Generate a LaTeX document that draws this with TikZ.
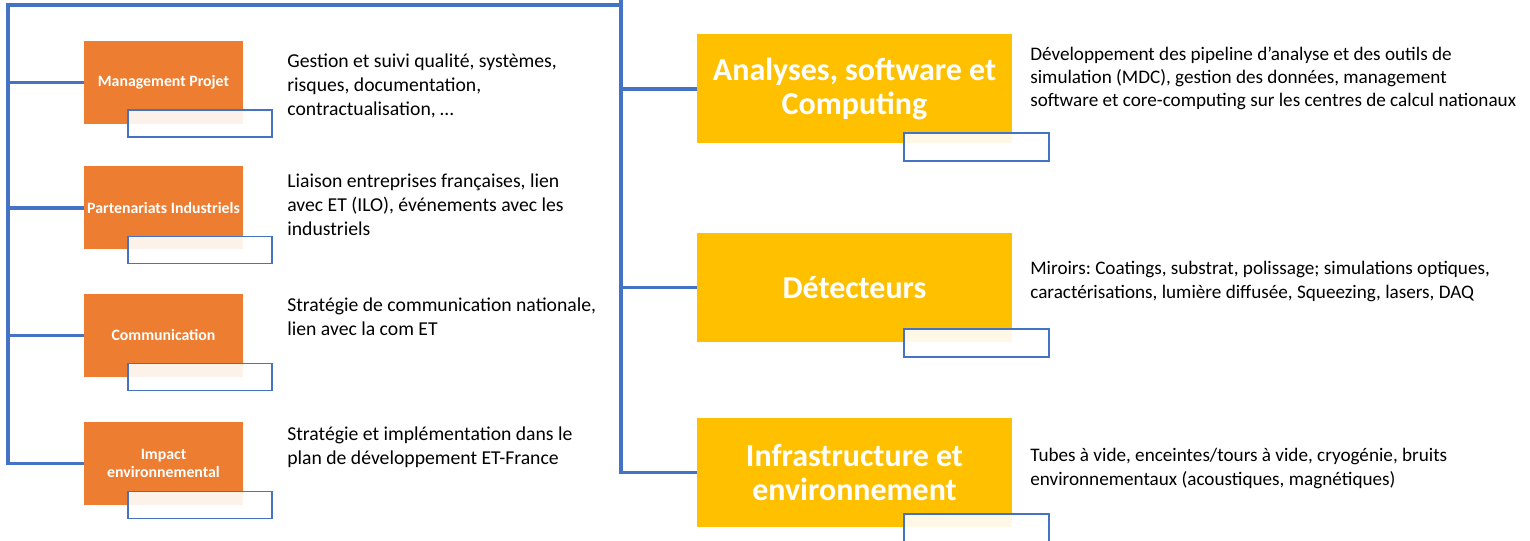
\documentclass[tikz,border=0pt]{standalone}
\usepackage{fontspec}
\setmainfont{Carlito}
\usepackage{xcolor}
\usepackage{tikz}
\usetikzlibrary{positioning, calc}
\definecolor{cOrange}{RGB}{237,125,49}
\definecolor{cYellow}{RGB}{255,192,0}
\definecolor{cBlue}{RGB}{68,114,196}
\tikzset{
	pole/.style    ={rectangle, minimum width=3.18cm, minimum height=1.66cm, align=center, inner sep=0pt, fill=cOrange, text=white, font=\fontsize{9}{10.5}\selectfont\bfseries},
	axe/.style     ={rectangle, minimum width=6.3cm, minimum height=2.18cm, align=center, inner sep=0pt, fill=cYellow, text=white, font=\fontsize{18.2}{19.5}\selectfont\bfseries},
	tabbox/.style  ={rectangle, draw=cBlue, line width=0.8pt, fill=white, fill opacity=0.9, minimum width=2.88cm, minimum height=0.54cm, inner sep=0pt},
	desc/.style    ={anchor=west, align=left, inner sep=0pt, font=\fontsize{11.2}{13.7}\selectfont},
	link/.style    ={draw=cBlue, line width=1.9pt},
}
\frenchspacing
\begin{document}
\begin{tikzpicture}[x=0.2mm, y=-0.2mm]
	\useasboundingbox (0,0) rectangle (1530,541);
	% poles transverses
	\node[pole] (mgmt) at (163.5,82.5) {Management Projet};
	\node[pole] (part) at (163.5,208) {Partenariats Industriels};
	\node[pole] (comm) at (163.5,335.5) {Communication};
	\node[pole] (imp)  at (163.5,463.5) {Impact\\environnemental};
	\foreach \n/\y in {mgmt/123.5, part/250, comm/377, imp/505}
		\node[tabbox] (tab-\n) at (200,\y) {};
	\node[desc] (d-mgmt) at (287,86) {Gestion et suivi qualité, systèmes,\\risques, documentation,\\contractualisation, …};
	\node[desc] (d-part) at (287,205) {Liaison entreprises françaises, lien\\avec ET (ILO), événements avec les\\industriels};
	\node[desc] (d-comm) at (287,317) {Stratégie de communication nationale,\\lien avec la com ET};
	\node[desc] (d-imp)  at (287,447) {Stratégie et implémentation dans le\\plan de développement ET-France};
	% axes techniques
	\node[axe] (ana)   at (854.5,89) {Analyses, software et\\Computing};
	\node[axe] (det)   at (854.5,287.5) {Détecteurs};
	\node[axe] (infra) at (854.5,472.5) {Infrastructure et\\environnement};
	\foreach \n/\y in {ana/147, det/343, infra/528}
		\node[tabbox, minimum width=2.9cm, minimum height=0.56cm] (tab-\n) at (976.5,\y) {};
	\node[desc, font=\fontsize{10.9}{13.1}\selectfont] (d-ana) at (1030,78) {Développement des pipeline d’analyse et des outils de\\simulation (MDC), gestion des données, management\\software et core-computing sur les centres de calcul nationaux};
	\node[desc, font=\fontsize{10.9}{13.1}\selectfont] (d-det) at (1030,281.5) {Miroirs: Coatings, substrat, polissage; simulations optiques,\\caractérisations, lumière diffusée, Squeezing, lasers, DAQ};
	\node[desc, font=\fontsize{10.9}{13.1}\selectfont] (d-infra) at (1030,468.5) {Tubes à vide, enceintes/tours à vide, cryogénie, bruits\\environnementaux (acoustiques, magnétiques)};
	% arbre
	\coordinate (ltop) at (8,5);
	\coordinate (rtop) at (621,-2);
	\draw[link] (rtop) |- (ltop) |- (imp.west);
	\draw[link] (rtop) |- (infra.west);
	\foreach \n in {mgmt, part, comm}
		\draw[link] (\n.west) -- (\n.west -| ltop);
	\foreach \n in {ana, det}
		\draw[link] (\n.west) -- (\n.west -| rtop);
\end{tikzpicture}
\end{document}
